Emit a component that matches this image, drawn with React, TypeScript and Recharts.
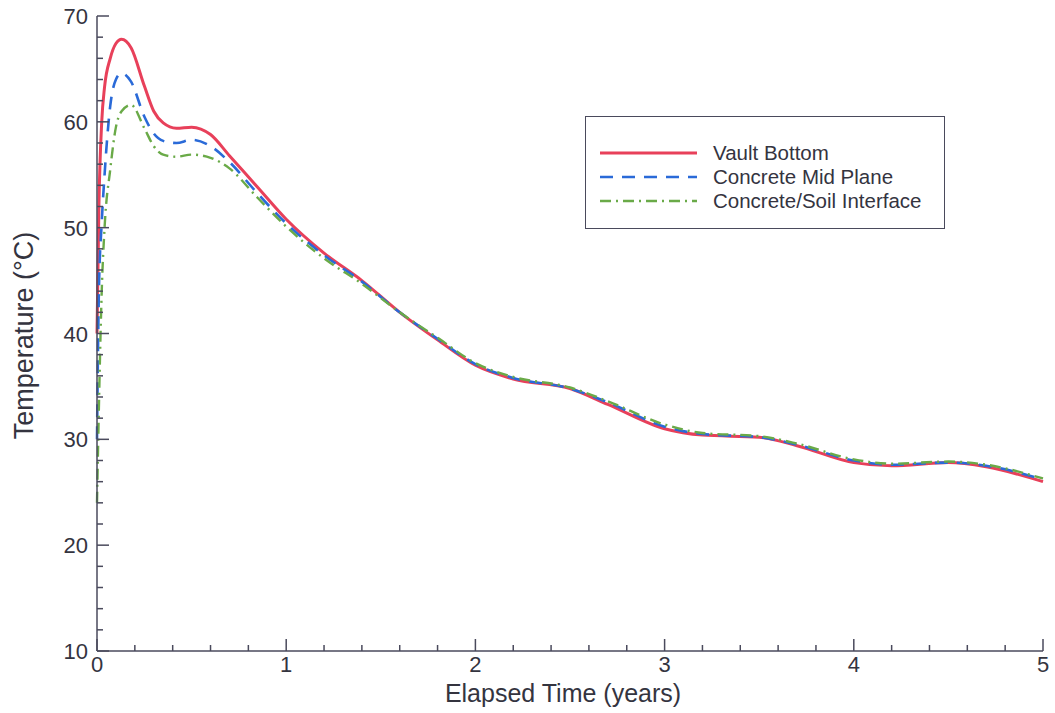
import React from 'react';
import { LineChart, Line, XAxis, YAxis, Legend } from 'recharts';

// Elapsed time (years)
const times = [0, 0.01, 0.025, 0.04, 0.07, 0.1, 0.13, 0.18, 0.25, 0.3, 0.35, 0.42, 0.5, 0.6, 0.7, 0.85, 1.0, 1.2, 1.4, 1.6, 1.8, 2.0, 2.2, 2.5, 2.7, 3.0, 3.2, 3.5, 3.7, 4.0, 4.2, 4.5, 4.7, 5.0];

const vaultBottom = [40, 52, 60, 63.3, 66, 67.4, 67.8, 67, 63.4, 61, 59.9, 59.4, 59.5, 58.8, 56.8, 53.8, 50.8, 47.6, 45, 42, 39.4, 37, 35.7, 34.8, 33.3, 31, 30.4, 30.2, 29.4, 27.8, 27.5, 27.8, 27.4, 26];
const concreteMid = [30, 44, 50.5, 55, 61.5, 64, 64.6, 63.8, 60.5, 58.9, 58.2, 58.0, 58.3, 57.7, 56.2, 53.2, 50.4, 47.4, 44.9, 42, 39.5, 37.1, 35.8, 34.8, 33.5, 31.2, 30.5, 30.2, 29.5, 28, 27.6, 27.8, 27.5, 26.2];
const soilInterface = [24, 33, 44, 50, 55.5, 59.5, 61, 61.6, 59.4, 57.7, 56.9, 56.7, 56.9, 56.6, 55.6, 52.8, 50.1, 47.1, 44.7, 42, 39.6, 37.2, 35.9, 34.9, 33.6, 31.4, 30.6, 30.3, 29.6, 28.1, 27.7, 27.9, 27.6, 26.3];

const xTicks = [0, 0.2, 0.4, 0.6, 0.8, 1, 1.2, 1.4, 1.6, 1.8, 2, 2.2, 2.4, 2.6, 2.8, 3, 3.2, 3.4, 3.6, 3.8, 4, 4.2, 4.4, 4.6, 4.8, 5];
const yTicks = [10, 12, 14, 16, 18, 20, 22, 24, 26, 28, 30, 32, 34, 36, 38, 40, 42, 44, 46, 48, 50, 52, 54, 56, 58, 60, 62, 64, 66, 68, 70];
const xMajorStep = 1;
const yMajorStep = 10;

const seriesNames = ['Vault Bottom', 'Concrete Mid Plane', 'Concrete/Soil Interface'];
const seriesKeys = ['vault', 'mid', 'soil'];
const seriesColors = ['#e8405a', '#2a6ad8', '#6aaa48'];
const seriesDash = ['', '13 9', '11 5 2 5'];
const seriesWidth = [3, 2.6, 2.4];

const data = times.map((t, i) => ({
  t,
  vault: vaultBottom[i],
  mid: concreteMid[i],
  soil: soilInterface[i],
}));

const AXIS = '#4a4a5c';
const TEXT = '#34343f';
const FONT = '"Liberation Sans", Arial, Helvetica, sans-serif';
const MAJOR = 12;
const MINOR = 6;

const isMajor = (v: number, step: number) => Math.abs(v / step - Math.round(v / step)) < 1e-6;

const BottomTick = (props: any) => {
  const { x, y, payload } = props;
  const major = isMajor(payload.value, xMajorStep);
  return (
    <g>
      <line x1={x} y1={y} x2={x} y2={y - (major ? MAJOR : MINOR)} stroke={AXIS} strokeWidth={1.5} />
      {major && (
        <text x={x} y={y + 21} textAnchor="middle" fontSize={22} fontFamily={FONT} fill={TEXT}>
          {Math.round(payload.value)}
        </text>
      )}
    </g>
  );
};

const TopTick = (props: any) => {
  const { x, y, payload } = props;
  const major = isMajor(payload.value, xMajorStep);
  return <line x1={x} y1={y} x2={x} y2={y + (major ? MAJOR : MINOR)} stroke={AXIS} strokeWidth={1.5} />;
};

const LeftTick = (props: any) => {
  const { x, y, payload } = props;
  const major = isMajor(payload.value, yMajorStep);
  return (
    <g>
      <line x1={x} y1={y} x2={x + (major ? MAJOR : MINOR)} y2={y} stroke={AXIS} strokeWidth={1.5} />
      {major && (
        <text x={x - 9} y={y + 8} textAnchor="end" fontSize={22} fontFamily={FONT} fill={TEXT}>
          {payload.value}
        </text>
      )}
    </g>
  );
};

const RightTick = (props: any) => {
  const { x, y, payload } = props;
  const major = isMajor(payload.value, yMajorStep);
  return <line x1={x} y1={y} x2={x - (major ? MAJOR : MINOR)} y2={y} stroke={AXIS} strokeWidth={1.5} />;
};

const YTitle = (props: any) => {
  const vb = props.viewBox || {};
  const cx = 24;
  const cy = (vb.y ?? 0) + (vb.height ?? 0) / 2 + 2;
  return (
    <text x={cx} y={cy} transform={`rotate(-90, ${cx}, ${cy})`} textAnchor="middle" dominantBaseline="central" fontSize={27} fontFamily={FONT} fill={TEXT}>
      Temperature (°C)
    </text>
  );
};

const XTitle = (props: any) => {
  const vb = props.viewBox || {};
  const cx = (vb.x ?? 0) + (vb.width ?? 0) / 2 - 7;
  const cy = (vb.y ?? 0) + 42;
  return (
    <text x={cx} y={cy} textAnchor="middle" dominantBaseline="central" fontSize={25} fontFamily={FONT} fill={TEXT}>
      Elapsed Time (years)
    </text>
  );
};

const LegendBox = () => (
  <div style={{ width: 360, height: 113, border: `1.5px solid ${AXIS}`, background: '#fff', boxSizing: 'border-box' }}>
    <svg width={357} height={110}>
      {seriesNames.map((name, i) => {
        const cy = 36 + i * 24;
        return (
          <g key={name}>
            <line x1={14} y1={cy} x2={111} y2={cy} stroke={seriesColors[i]} strokeWidth={seriesWidth[i]} strokeDasharray={seriesDash[i] || undefined} />
            <text x={127} y={cy + 7} fontSize={20.5} fontFamily={FONT} fill={TEXT}>{name}</text>
          </g>
        );
      })}
    </svg>
  </div>
);

export default function App() {
  return (
    <div>
      <style>{'html, body { margin: 0; padding: 0; }'}</style>
      <LineChart width={1055} height={713} data={data} margin={{ top: 16, right: 12, bottom: 0, left: 0 }}>
        <XAxis
          xAxisId="bottom"
          dataKey="t"
          type="number"
          domain={[0, 5]}
          ticks={xTicks}
          interval={0}
          height={62}
          tickSize={0}
          tickMargin={0}
          tickLine={false}
          axisLine={{ stroke: AXIS, strokeWidth: 1.5 }}
          tick={<BottomTick />}
          label={{ content: <XTitle /> }}
        />
        <XAxis
          xAxisId="top"
          orientation="top"
          dataKey="t"
          type="number"
          domain={[0, 5]}
          ticks={xTicks}
          interval={0}
          height={0}
          tickSize={0}
          tickMargin={0}
          tickLine={false}
          axisLine={{ stroke: AXIS, strokeWidth: 1.5 }}
          tick={<TopTick />}
        />
        <YAxis
          yAxisId="left"
          type="number"
          domain={[10, 70]}
          ticks={yTicks}
          interval={0}
          width={97}
          tickSize={0}
          tickMargin={0}
          tickLine={false}
          axisLine={{ stroke: AXIS, strokeWidth: 1.5 }}
          tick={<LeftTick />}
          label={{ content: <YTitle /> }}
        />
        <YAxis
          yAxisId="right"
          orientation="right"
          type="number"
          domain={[10, 70]}
          ticks={yTicks}
          interval={0}
          width={0}
          tickSize={0}
          tickMargin={0}
          tickLine={false}
          axisLine={{ stroke: AXIS, strokeWidth: 1.5 }}
          tick={<RightTick />}
        />
        <Legend
          layout="vertical"
          align="center"
          verticalAlign="middle"
          content={<LegendBox />}
          wrapperStyle={{ position: 'absolute', left: 585, top: 116, width: 360, height: 113 }}
        />
        {seriesKeys.map((k, i) => (
          <Line
            key={k}
            xAxisId="bottom"
            yAxisId="left"
            type="monotone"
            dataKey={k}
            name={seriesNames[i]}
            stroke={seriesColors[i]}
            strokeWidth={seriesWidth[i]}
            strokeDasharray={seriesDash[i] || undefined}
            dot={false}
            activeDot={false}
            isAnimationActive={false}
          />
        ))}
      </LineChart>
    </div>
  );
}
